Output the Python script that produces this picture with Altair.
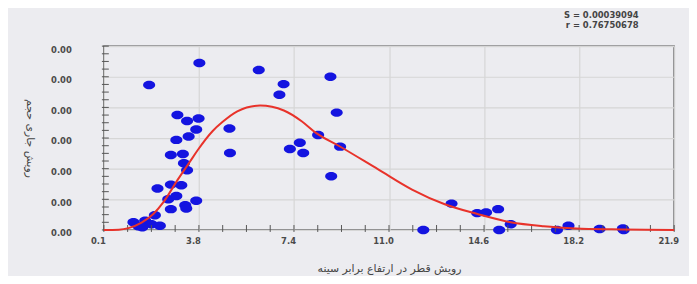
import altair as alt
import pandas as pd

# Observed points (x: diameter growth, y: current volume growth)
obs_x = [3.75, 1.83, 2.91, 3.28, 3.72, 3.63, 3.34, 2.87, 2.66, 3.12, 3.16, 3.28, 2.66,
         3.06, 2.15, 2.56, 2.87, 3.21, 3.63, 2.66, 3.25, 2.05, 1.23, 1.68, 1.92, 2.24,
         1.42, 1.57, 4.90, 4.92, 6.02, 6.97, 6.81, 8.76, 9.00, 8.29, 7.59, 7.21, 7.72,
         9.13, 8.79, 13.39, 14.37, 14.71, 15.17, 12.31, 15.21, 15.65, 17.42, 17.86,
         19.05, 19.94, 19.97]
obs_y = [0.00545, 0.00473, 0.00375, 0.00356, 0.00364, 0.00328, 0.00305, 0.00294,
         0.00245, 0.00248, 0.00218, 0.00195, 0.00148, 0.00146, 0.00135, 0.00100,
         0.00111, 0.00081, 0.00095, 0.00068, 0.00070, 0.00048, 0.00025, 0.00030,
         0.00019, 0.00014, 0.00012, 0.00009, 0.00331, 0.00251, 0.00522, 0.00476,
         0.00441, 0.00500, 0.00383, 0.00310, 0.00285, 0.00264, 0.00251, 0.00272,
         0.00175, 0.00086, 0.00055, 0.00057, 0.00068, 0.00000, 0.00000, 0.00019,
         0.00000, 0.00014, 0.00003, 0.00005, 0.00000]

# Fitted curve
fit_x = [0.1, 0.67, 1.04, 1.54, 1.99, 2.37, 2.93, 3.39, 3.69, 4.26, 4.63, 5.20, 6.07,
         6.98, 7.66, 8.22, 9.09, 10.60, 11.88, 13.13, 14.38, 15.65, 16.91, 18.16,
         19.50, 21.9]
fit_y = [0.0, 0.00001, 0.00006, 0.00024, 0.00052, 0.00090, 0.00165, 0.00223, 0.00261,
         0.00323, 0.00352, 0.00387, 0.00406, 0.00390, 0.00355, 0.00316, 0.00274,
         0.00197, 0.00132, 0.00084, 0.00052, 0.00025, 0.00012, 0.00005, 0.00002, 0.0]

x_ticks = [0.1, 3.7333, 7.3667, 11.0, 14.6333, 18.2667, 21.9]
x_tick_labels = ["0.1", "3.8", "7.4", "11.0", "14.6", "18.2", "21.9"]
y_ticks = [0.0, 0.001, 0.002, 0.003, 0.004, 0.005, 0.006]
x_minor = [0.1, 1.0083, 1.9167, 2.825, 3.7333, 4.6417, 5.55, 6.4583, 7.3667, 8.275,
           9.1833, 10.0917, 11.0, 11.9083, 12.8167, 13.725, 14.6333, 15.5417, 16.45,
           17.3583, 18.2667, 19.175, 20.0833, 20.9917, 21.9]
y_minor = [0.0, 0.00025, 0.0005, 0.00075, 0.001, 0.00125, 0.0015, 0.00175, 0.002,
           0.00225, 0.0025, 0.00275, 0.003, 0.00325, 0.0035, 0.00375, 0.004, 0.00425,
           0.0045, 0.00475, 0.005, 0.00525, 0.0055, 0.00575, 0.006]

annotation = "S = 0.00039094\nr = 0.76750678"
x_title = "رویش قطر در ارتفاع برابر سینه"
y_title = "رویش جاری حجم"

obs = pd.DataFrame({"x": obs_x, "y": obs_y})
fit = pd.DataFrame({"x": fit_x, "y": fit_y})
xm = pd.DataFrame({"x": x_minor})
ym = pd.DataFrame({"y": y_minor})

W, H = 577, 186
xscale = alt.Scale(domain=[0.1, 21.9], nice=False, zero=False)
yscale = alt.Scale(domain=[0, 0.006], nice=False)

lab = dict(labelFont="DejaVu Sans", labelFontSize=8.5, labelFontWeight="bold",
           labelColor="#4a4a4a")

label_expr = "[" + ",".join("'%s'" % s for s in x_tick_labels) + "][round((datum.value - 0.1) / 3.63333)]"

x_axis = alt.Axis(values=x_ticks, labelExpr=label_expr, grid=True, gridColor="#d6d6d6",
                  gridWidth=1.2, ticks=False, domain=False, labelPadding=7,
                  labelOffset=-6, labelFlush=False, title=x_title,
                  titleFont="DejaVu Sans", titleFontSize=11, titleFontWeight="normal",
                  titleColor="#444444", titleY=39, titleBaseline="middle", **lab)
y_axis = alt.Axis(values=y_ticks, labelExpr="format(floor(datum.value * 100 + 1e-9) / 100, '.2f')",
                  grid=True, gridColor="#d6d6d6",
                  gridWidth=1.2, ticks=False, domain=False, labelPadding=33,
                  labelOffset=3, title=y_title, titleFont="DejaVu Sans",
                  titleFontSize=11, titleFontWeight="normal", titleColor="#444444",
                  titleX=-75, titleBaseline="middle", titleAngle=90, **lab)

X = lambda f: alt.X(f, scale=xscale, axis=x_axis)
Y = lambda f: alt.Y(f, scale=yscale, axis=y_axis)

ellipse = "M-1,0A1,0.7,0,1,1,1,0A1,0.7,0,1,1,-1,0Z"

points = alt.Chart(obs).mark_point(shape=ellipse, filled=True, size=150,
                                   color="#1414e0", opacity=1).encode(
    x=X("x:Q"), y=Y("y:Q"),
)

curve = alt.Chart(fit).mark_line(color="#e8322a", strokeWidth=2,
                                 interpolate="monotone").encode(
    x=X("x:Q"), y=Y("y:Q"),
)

x_minor_ticks = alt.Chart(xm).mark_rule(color="#555555", strokeWidth=1).encode(
    x=X("x:Q"),
    y=alt.value(H - 5), y2=alt.value(H + 2),
)
y_minor_ticks = alt.Chart(ym).mark_rule(color="#555555", strokeWidth=1).encode(
    y=Y("y:Q"),
    x=alt.value(-2), x2=alt.value(5),
)

text = alt.Chart(pd.DataFrame({"t": [annotation]})).mark_text(
    align="right", baseline="top", lineBreak="\n", lineHeight=10, x=541, y=-35,
    font="DejaVu Sans", fontSize=8.5, fontWeight="bold", color="#444444",
).encode(text="t:N")

chart = alt.layer(points, x_minor_ticks, y_minor_ticks, curve, text).properties(
    width=W, height=H,
    padding={"left": 97, "top": 37, "right": 15, "bottom": 45},
    autosize=alt.AutoSizeParams(type="none"),
    background="#ececf0",
).configure_view(fill="white", stroke="#555555", strokeWidth=1.5)

chart.save("out.html", embed_options={"renderer": "svg", "actions": False})
